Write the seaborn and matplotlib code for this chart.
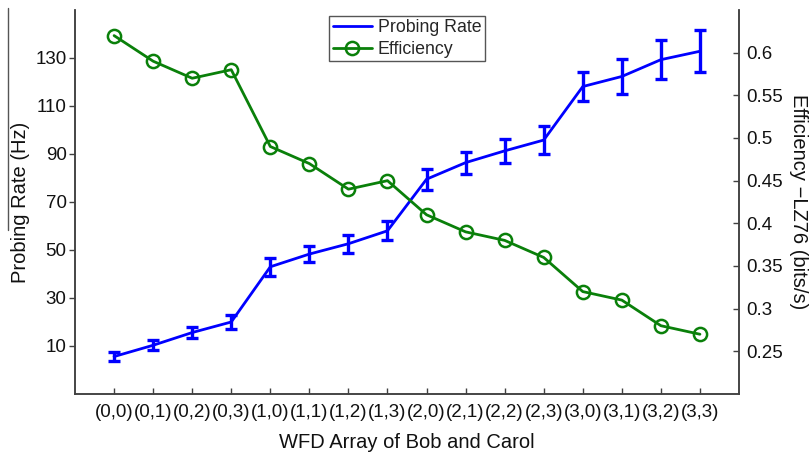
import matplotlib
matplotlib.use("Agg")
import matplotlib.pyplot as plt
import seaborn as sns
import numpy as np
import pandas as pd
from matplotlib.lines import Line2D

sns.set_theme(style="white")
plt.rcParams['font.family'] = ['Liberation Sans', 'DejaVu Sans']

categories = ["(0,0)", "(0,1)", "(0,2)", "(0,3)", "(1,0)", "(1,1)", "(1,2)", "(1,3)",
              "(2,0)", "(2,1)", "(2,2)", "(2,3)", "(3,0)", "(3,1)", "(3,2)", "(3,3)"]
probing_rate = [5.6, 10.3, 15.6, 20.0, 43.0, 48.3, 52.6, 58.0,
                79.5, 86.4, 91.3, 95.8, 118.1, 122.3, 129.3, 132.8]
probing_err = [2.0, 2.0, 2.4, 3.0, 3.7, 3.4, 3.8, 3.9,
               4.4, 4.6, 5.1, 6.0, 6.1, 7.3, 8.1, 8.8]
efficiency = [0.62, 0.59, 0.57, 0.58, 0.49, 0.47, 0.44, 0.45,
              0.41, 0.39, 0.38, 0.36, 0.32, 0.31, 0.28, 0.27]
left_ticks = [10, 30, 50, 70, 90, 110, 130]
right_ticks = [0.25, 0.3, 0.35, 0.4, 0.45, 0.5, 0.55, 0.6]

df = pd.DataFrame({"pos": np.arange(len(categories)), "cat": categories,
                   "rate": probing_rate, "err": probing_err, "eff": efficiency})

BLUE = "#0000ff"
GREEN = "#0a800a"
SPINE = "#404040"

fig = plt.figure(figsize=(8.12, 4.54), dpi=100)
ax = fig.add_axes([0.0924, 0.1322, 0.8177, 0.8458])
ax2 = ax.twinx()

sns.lineplot(data=df, x="pos", y="rate", ax=ax, color=BLUE, lw=2.0, legend=False)
ax.errorbar(df["pos"], df["rate"], yerr=df["err"], fmt="none", ecolor=BLUE,
            elinewidth=2.4, capsize=4, capthick=2.4)

sns.lineplot(data=df, x="pos", y="eff", ax=ax2, color=GREEN, lw=2.0, marker="o",
             markersize=9.5, markerfacecolor="none", markeredgecolor=GREEN,
             markeredgewidth=1.8, legend=False)

ax.set_xlim(-1, len(categories))
ax.set_ylim(-10, 150)
ax2.set_ylim(0.2, 0.65)
ax.set_xticks(df["pos"])
ax.set_xticklabels(categories)
ax.set_yticks(left_ticks)
ax.set_yticklabels([str(t) for t in left_ticks])
ax2.set_yticks(right_ticks)
ax2.set_yticklabels(["%g" % t for t in right_ticks])

fs = 13.5
lfs = 14.5
ax.tick_params(axis="y", direction="out", length=4, width=1, color=SPINE, labelsize=fs, pad=2, left=True)
ax.tick_params(axis="x", direction="in", length=4, width=1, color=SPINE, labelsize=fs, pad=7, bottom=True)
ax2.tick_params(axis="y", direction="in", length=4, width=1, color=SPINE, labelsize=fs, pad=5, right=True)
for t in ax.get_xticklabels() + ax.get_yticklabels() + ax2.get_yticklabels():
    t.set_color("#111111")

for a in (ax, ax2):
    a.spines["top"].set_visible(False)
    for s in ("left", "bottom", "right"):
        a.spines[s].set_color(SPINE)
        a.spines[s].set_linewidth(1.1)
    a.grid(False)

ax.set_xlabel("WFD Array of Bob and Carol", fontsize=lfs, color="#111111", labelpad=9)
ax.set_ylabel("Probing Rate (Hz)", fontsize=lfs, color="#111111", labelpad=4)
ax2.set_ylabel("Efficiency \u2212LZ76 (bits/s)", fontsize=lfs, color="#111111", rotation=270, labelpad=18)

handles = [Line2D([], [], color=BLUE, lw=2.0),
           Line2D([], [], color=GREEN, lw=2.0, marker="o", markersize=9.5,
                  markerfacecolor="none", markeredgewidth=1.8)]
leg = ax2.legend(handles, ["Probing Rate", "Efficiency"], loc="upper center",
                 bbox_to_anchor=(0.5, 0.985), fontsize=12.8, frameon=True, fancybox=False,
                 framealpha=1, edgecolor="#555555", borderpad=0.2, handlelength=2.2,
                 handletextpad=0.35, labelspacing=0.25, borderaxespad=0)
leg.get_frame().set_linewidth(1.0)

fig.add_artist(Line2D([8 / 812, 8 / 812], [1 - 8 / 454, 1 - 230 / 454],
                      transform=fig.transFigure, color="#555555", lw=1.0))

fig.savefig("out.png", dpi=100)
